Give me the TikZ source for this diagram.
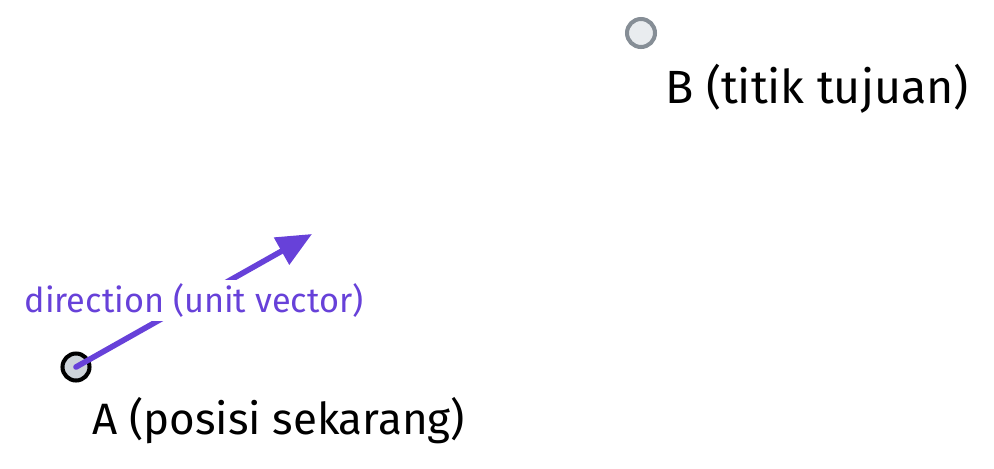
\documentclass[tikz,border=0pt]{standalone}
\usepackage{fontspec}
\setmainfont{Fira Sans}
\usetikzlibrary{arrows.meta}

\definecolor{vecviolet}{HTML}{6741D9}
\definecolor{startfill}{HTML}{CED4DA}
\definecolor{goalfill}{HTML}{E9ECEF}
\definecolor{goalline}{HTML}{868E96}

\tikzset{start point/.style={circle,draw=black,fill=startfill,line width=2.3pt,minimum size=0.54cm,inner sep=0pt},
goal point/.style={circle,draw=goalline,fill=goalfill,line width=2.3pt,minimum size=0.56cm,inner sep=0pt},
point label/.style={font=\fontsize{25}{30}\selectfont,anchor=west,inner sep=0pt},
unit vector/.style={draw=vecviolet,line width=3.2pt,line cap=round,-{Triangle[length=0.7cm,width=0.6cm]}},
vector label/.style={font=\fontsize{19.5}{23}\selectfont,text=vecviolet,fill=white,inner sep=0.08cm}}

\begin{document}
\begin{tikzpicture}[x=0.02cm,y=-0.02cm]
\useasboundingbox (0,0) rectangle (994,468);

%% points
\node [start point] (nA) at (76,367) {};
\node [goal point] (nB) at (641,33) {};
\coordinate (nTip) at (312,234);

%% direction vector
\draw [unit vector] (nA.center) -- node [vector label] (nDir) {direction (unit vector)} (nTip);

%% point labels
\node [point label] (nAlab) at (92,421) {A (posisi sekarang)};
\node [point label,font=\fontsize{26.5}{31}\selectfont] (nBlab) at (665,89) {B (titik tujuan)};

\end{tikzpicture}
\end{document}
